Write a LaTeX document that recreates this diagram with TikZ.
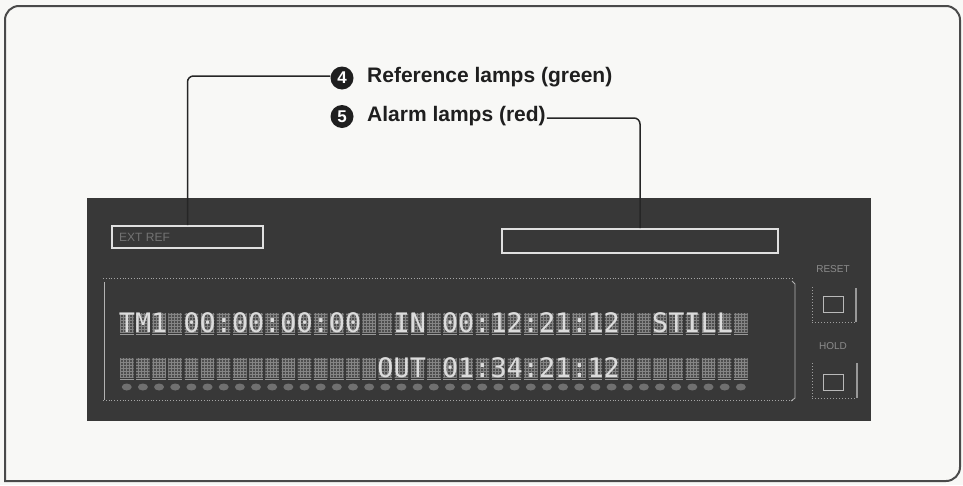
\documentclass[tikz,border=0pt]{standalone}
\usepackage{fontspec}
\setmainfont{Liberation Sans}
\newfontfamily\lcdfont{DejaVu Sans Mono}
\usetikzlibrary{patterns}
\definecolor{paper}{HTML}{F8F8F6}
\definecolor{panel}{HTML}{383838}
\definecolor{framec}{HTML}{4A4A4A}
\definecolor{cellc}{HTML}{4E4E4E}
\definecolor{gridc}{HTML}{858585}
\definecolor{litc}{HTML}{DCDCDC}
\definecolor{dotc}{HTML}{707070}
\definecolor{faintc}{HTML}{8C8C8C}
\tikzset{
  numc/.style={circle, fill=black!88, text=white, inner sep=0pt, minimum size=23pt,
    font=\bfseries\fontsize{17}{17}\selectfont},
  lbl/.style={anchor=west, inner sep=1pt, text=black!88,
    font=\bfseries\fontsize{21}{21}\selectfont},
  leader/.style={draw=black!85, line width=1.5pt, rounded corners=6pt},
  lampbox/.style={draw=white!88!black, line width=1.8pt, inner sep=0pt},
  lcd/.style={anchor=base west, inner sep=0pt, text=litc,
    font=\lcdfont\fontsize{26.85}{26.85}\selectfont},
  btnlbl/.style={inner sep=0pt, text=faintc, font=\fontsize{10}{10}\selectfont},
  btnline/.style={draw=gray!75, line width=1pt},
}
\begin{document}
\begin{tikzpicture}[x=1pt,y=-1pt]
\useasboundingbox (0,0) rectangle (963,485);
\fill[paper] (0,0) rectangle (963,485);
% outer frame
\draw[framec, line width=2pt, line cap=rect, rounded corners=14pt]
  (5,481) -- (5,6) -- (960,6) -- (960,481) -- (5,481);
% dark panel
\fill[panel] (87,198) rectangle (871,421);
% display area
\draw[gray!70, dotted, line width=0.8pt] (103,278) -- (793,278);
\draw[gray!70, dotted, line width=0.8pt] (103,400) -- (792,400);
\draw[gray!60, line width=0.8pt] (104,282) -- (104,400);
\draw[gray!60, line width=0.8pt] (791,401) -- (795,398) -- (795,284) -- (792,281);
% character cells
\foreach \y in {313,358} {
  \foreach \i in {0,...,38} {
    \fill[cellc] ({120+\i*16.16},\y) rectangle +(13.5,19);
    \fill[pattern=grid, pattern color=gridc] ({120+\i*16.16},\y) rectangle +(13.5,19);
    \draw[gray!80, line width=0.8pt] ({120+\i*16.16},\y+21) -- +(13.5,0);
  }
}
% dots
\foreach \i in {0,...,38} {
  \fill[dotc] ({126.75+\i*16.16},387) ellipse [x radius=5pt, y radius=3.5pt];
}
% lit characters, row 1
\node[lcd] (r1a) at ({120-1.33+0*16.16},332) {TM1};
\node[lcd] (r1b) at ({120-1.33+4*16.16},332) {00:00:00:00};
\node[lcd] (r1c) at ({120-1.33+17*16.16},332) {IN};
\node[lcd] (r1d) at ({120-1.33+20*16.16},332) {00:12:21:12};
\node[lcd] (r1e) at ({120-1.33+33*16.16},332) {STILL};
% row 2
\node[lcd] (r2a) at ({120-1.33+16*16.16},377) {OUT};
\node[lcd] (r2b) at ({120-1.33+20*16.16},377) {01:34:21:12};
% lamp boxes
\node[lampbox, minimum width=151pt, minimum height=22pt] (refbox) at (187.5,237) {};
\node[anchor=west, inner sep=0pt, text=black!55, font=\fontsize{12}{12}\selectfont] (extref) at (119,237) {EXT REF};
\node[lampbox, minimum width=276pt, minimum height=24pt] (alarmbox) at (640,241) {};
% callouts
\node[numc] (c4) at (342,78) {4};
\node[lbl] (l4) at (366,77) {Reference lamps (green)};
\node[numc] (c5) at (342,116.5) {5};
\node[lbl] (l5) at (366,116) {Alarm lamps (red)};
\draw[leader] ([yshift=2pt]c4.west) -| (refbox.north);
\draw[leader] ([yshift=-2pt]l5.east) -| (alarmbox.north);
% buttons
\node[btnlbl] (resetl) at (833,269) {RESET};
\node[btnlbl] (holdl) at (833,346) {HOLD};
\draw[btnline, dotted] (812,287) -- (812,321);
\draw[btnline, dotted] (812,322) -- (855,322);
\draw[gray!80, line width=2pt] (856,288) -- (856,322);
\draw[gray!55, line width=0.8pt] (823,296) rectangle (843,312);
\draw[btnline, dotted] (812,363) -- (812,397);
\draw[btnline, dotted] (812,398) -- (856,398);
\draw[gray!80, line width=2pt] (857,363) -- (857,398);
\draw[gray!55, line width=0.8pt] (823,374) rectangle (843,390);
\end{tikzpicture}
\end{document}
